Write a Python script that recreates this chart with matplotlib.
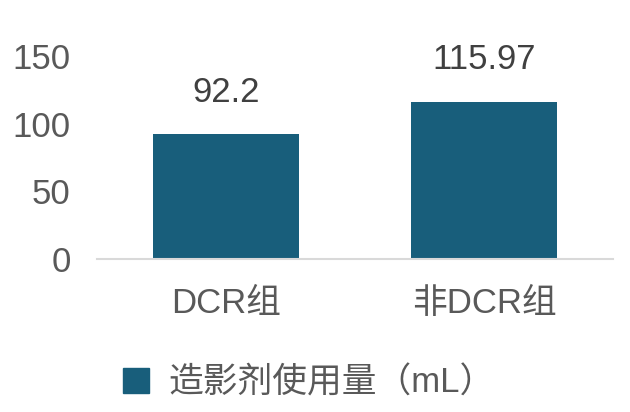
import matplotlib.pyplot as plt
from matplotlib.patches import Patch

groups = ['DCR组', '非DCR组']
values = [92.2, 115.97]
labels = ['92.2', '115.97']
series_name = '造影剂使用量（mL）'
yticks = [0, 50, 100, 150]

plt.rcParams['font.family'] = ['Liberation Sans', 'Noto Sans CJK SC', 'DejaVu Sans']

bar_color = '#185E7B'
text_gray = '#595959'
fs = 25

fig = plt.figure(figsize=(6.3, 4.12), dpi=100)
ax = fig.add_axes([0.154, 0.371, 0.819, 0.493])

x = range(len(groups))
bars = ax.bar(x, values, width=0.566, color=bar_color, zorder=2)
for b, t in zip(bars, labels):
    ax.text(b.get_x() + b.get_width() / 2, b.get_height() + 19, t,
            ha='center', va='bottom', fontsize=fs, color='#404040')

ax.set_xlim(-0.5, 1.5)
ax.set_ylim(0, 150)
ax.set_yticks(yticks)
ax.set_xticks(list(x))
ax.set_xticklabels(groups)
ax.tick_params(axis='y', length=0, labelsize=fs, labelcolor=text_gray, pad=19)
ax.tick_params(axis='x', length=0, labelsize=fs, labelcolor=text_gray, pad=20)

for s in ['top', 'right', 'left']:
    ax.spines[s].set_visible(False)
ax.spines['bottom'].set_color('#D9D9D9')
ax.spines['bottom'].set_linewidth(1.5)

handle = Patch(facecolor=bar_color, edgecolor=bar_color)
fig.legend([handle], [series_name], loc='center', bbox_to_anchor=(0.49, 0.07),
           frameon=False, fontsize=fs, labelcolor=text_gray,
           handlelength=0.75, handleheight=0.75, handletextpad=0.55)

fig.savefig('out.png', dpi=100)
